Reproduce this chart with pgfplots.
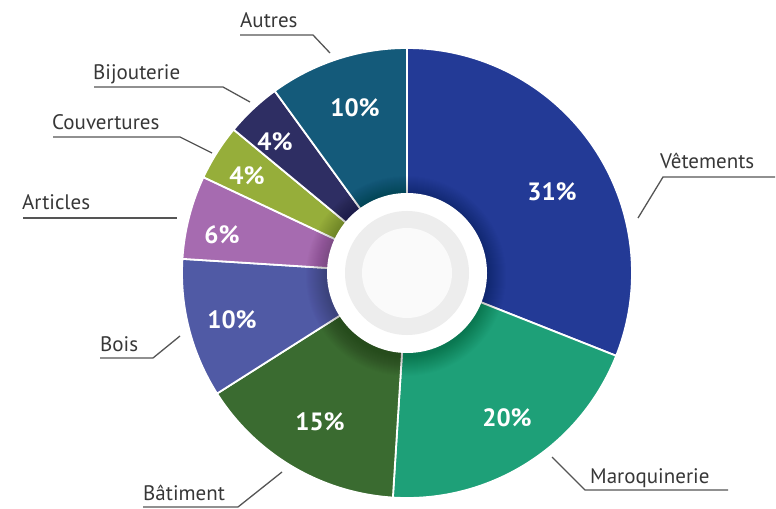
\documentclass[border=0pt]{standalone}
\usepackage{pgfplots}
\pgfplotsset{compat=1.18}
\usepgfplotslibrary{polar}
\usepackage{fontspec}
\setmainfont{PT Sans}
\definecolor{cVet}{RGB}{35,58,150}
\definecolor{cMar}{RGB}{30,160,120}
\definecolor{cBat}{RGB}{58,107,48}
\definecolor{cBoi}{RGB}{80,90,165}
\definecolor{cArt}{RGB}{166,107,176}
\definecolor{cCou}{RGB}{150,174,58}
\definecolor{cBij}{RGB}{46,46,99}
\definecolor{cAut}{RGB}{20,90,122}
\definecolor{lbl}{RGB}{55,55,55}
\definecolor{lead}{RGB}{85,85,85}
% #1 = cumulative percentage before the slice, #2 = percentage of the slice
\newcommand{\slice}[3]{%
  \addplot[fill=#3, draw=white, line width=1.8bp, domain={90-3.6*(#1)}:{90-3.6*(#1+#2)}, samples=90]
    {225} -- (axis cs:0,0) -- cycle;
}
\begin{document}
\begin{tikzpicture}
\begin{scope}[x=1bp,y=-1bp]
\path (0,0) rectangle (776,509);
\end{scope}
\begin{polaraxis}[
  at={(407bp,-273bp)}, anchor=center,
  scale only axis, width=450bp, height=450bp,
  ymin=0, ymax=225, hide axis, clip=false]
  \slice{0}{31}{cVet}
  \slice{31}{20}{cMar}
  \slice{51}{15}{cBat}
  \slice{66}{10}{cBoi}
  \slice{76}{6}{cArt}
  \slice{82}{4}{cCou}
  \slice{86}{4}{cBij}
  \slice{90}{10}{cAut}
\end{polaraxis}
\begin{scope}[x=1bp,y=-1bp]
% shadow and centre
\foreach \r in {81,82,...,100}{\fill[black,opacity=0.012] (406,276) circle[radius=\r bp];}
\fill[white] (407,273) circle[radius=80bp];
\fill[black!7] (407,273) circle[radius=62bp];
\fill[black!2] (407,273) circle[radius=45bp];
% percentages
\begin{scope}[every node/.style={text=white, font=\fontsize{25bp}{28bp}\selectfont\bfseries, inner sep=0}]
\node at (552,192) {31\%};
\node at (507,418) {20\%};
\node at (320,422) {15\%};
\node at (232,320) {10\%};
\node at (222,235) {6\%};
\node at (247,176) {4\%};
\node at (275,142) {4\%};
\node at (355,108) {10\%};
\end{scope}
% leader lines
\begin{scope}[draw=lead, line width=1.3bp]
\draw (240,35) -- (313,35) -- (330,53);
\draw (94,87) -- (223,87) -- (250,102);
\draw (53,137) -- (180,137) -- (212,153);
\draw (23,218) -- (177,218);
\draw (100,358) -- (153,358) -- (180,336);
\draw (143,507) -- (238,507) -- (282,472);
\draw (775,177) -- (663,177) -- (638,218);
\draw (728,490) -- (585,490) -- (552,457);
\end{scope}
% labels
\begin{scope}[every node/.style={text=lbl, font=\fontsize{21bp}{24bp}\selectfont, inner sep=0, anchor=base west}]
\node at (240,28) {Autres};
\node at (93,80) {Bijouterie};
\node at (52,130) {Couvertures};
\node at (22,210) {Articles};
\node at (100,351) {Bois};
\node at (143,500) {Bâtiment};
\node at (660,169) {Vêtements};
\node at (590,483) {Maroquinerie};
\end{scope}
\end{scope}
\end{tikzpicture}
\end{document}
